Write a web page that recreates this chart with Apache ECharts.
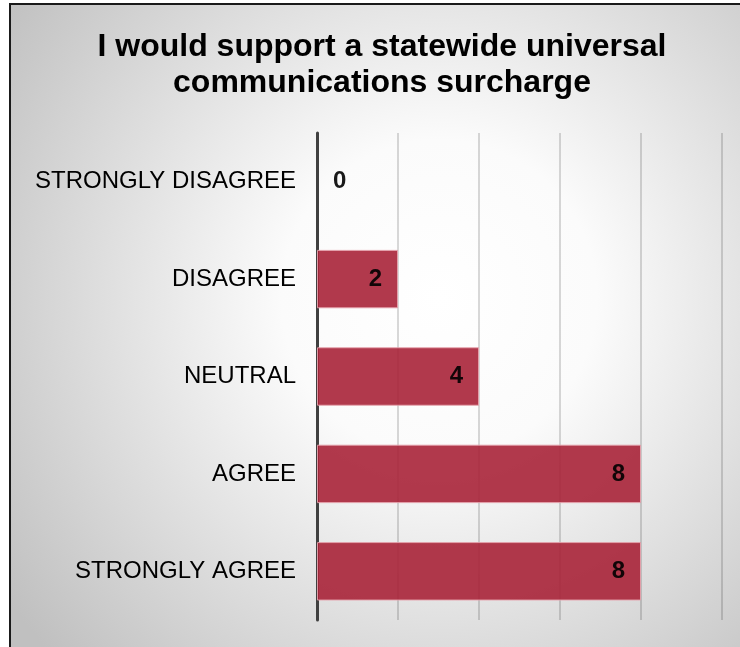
<!DOCTYPE html>
<html>
<head>
<meta charset="utf-8">
<script src="https://cdn.jsdelivr.net/npm/echarts@6/dist/echarts.min.js"></script>
<style>
html,body{margin:0;padding:0;background:#fff;}
#main{width:740px;height:647px;}
</style>
</head>
<body>
<div id="main"></div>
<script>
var titleText = 'I would support a statewide universal\ncommunications surcharge';
var categories = ['STRONGLY DISAGREE', 'DISAGREE', 'NEUTRAL', 'AGREE', 'STRONGLY AGREE'];
var counts = [0, 2, 4, 8, 8];
var axisMax = 10;
var axisStep = 2;

var myChart = echarts.init(document.getElementById('main'));

// 0 has no bar, so its label goes outside
var barData = counts.map(function(v){
	if(v === 0){
		return {value: v, itemStyle: {borderWidth: 0}, label: {position: 'right'}};
	}
	return v;
});

option = {
	backgroundColor: '#fff',
	textStyle: {
		fontFamily: 'Arial, "Liberation Sans", sans-serif'
	},
	/**
	 * frame + background
	 */
	graphic: [{
		type: 'rect',
		z: -10,
		silent: true,
		shape: {x: 10, y: 4, width: 780, height: 700},
		style: {
			fill: {
				type: 'radial', x: 0.55, y: 0.42, r: 0.75,
				colorStops: [
					{offset: 0, color: '#ffffff'},
					{offset: 0.3, color: '#fbfbfb'},
					{offset: 1, color: '#c0c0c0'}
				]
			},
			stroke: '#1a1a1a',
			lineWidth: 2
		}
	}],
	title: {
		text: titleText,
		left: 377,
		top: 24,
		textAlign: 'center',
		textStyle: {
			fontSize: 32,
			fontWeight: 'bold',
			color: '#000',
			lineHeight: 36,
			fontFamily: 'Arial, "Liberation Sans", sans-serif'
		}
	},
	grid: {
		left: 317,
		right: 18,
		top: 133,
		bottom: 27
	},
	xAxis: [{
		type: 'value',
		min: 0,
		max: axisMax,
		interval: axisStep,
		axisLine: {show: false},
		axisTick: {show: false},
		axisLabel: {show: false},
		splitLine: {
			show: true,
			lineStyle: {color: 'rgba(0,0,0,0.2)', width: 1.5}
		}
	}],
	yAxis: [{
		type: 'category',
		inverse: true,
		data: categories,
		axisLine: {
			show: true,
			lineStyle: {color: '#404040', width: 3}
		},
		axisTick: {show: false},
		axisLabel: {
			margin: 21,
			fontSize: 24,
			color: '#000',
			padding: [4, 0, 0, 0]
		}
	}],
	series: [{
		type: 'bar',
		data: barData,
		barCategoryGap: '40%',
		itemStyle: {
			color: 'rgb(169,36,56)',
			opacity: 0.9,
			borderColor: '#e6a3ad',
			borderWidth: 1
		},
		label: {
			show: true,
			position: 'insideRight',
			distance: 16,
			fontSize: 24,
			fontWeight: 'bold',
			color: '#000',
			padding: [4, 0, 0, 0]
		}
	}]
};
myChart.setOption(option);
</script>
</body>
</html>
